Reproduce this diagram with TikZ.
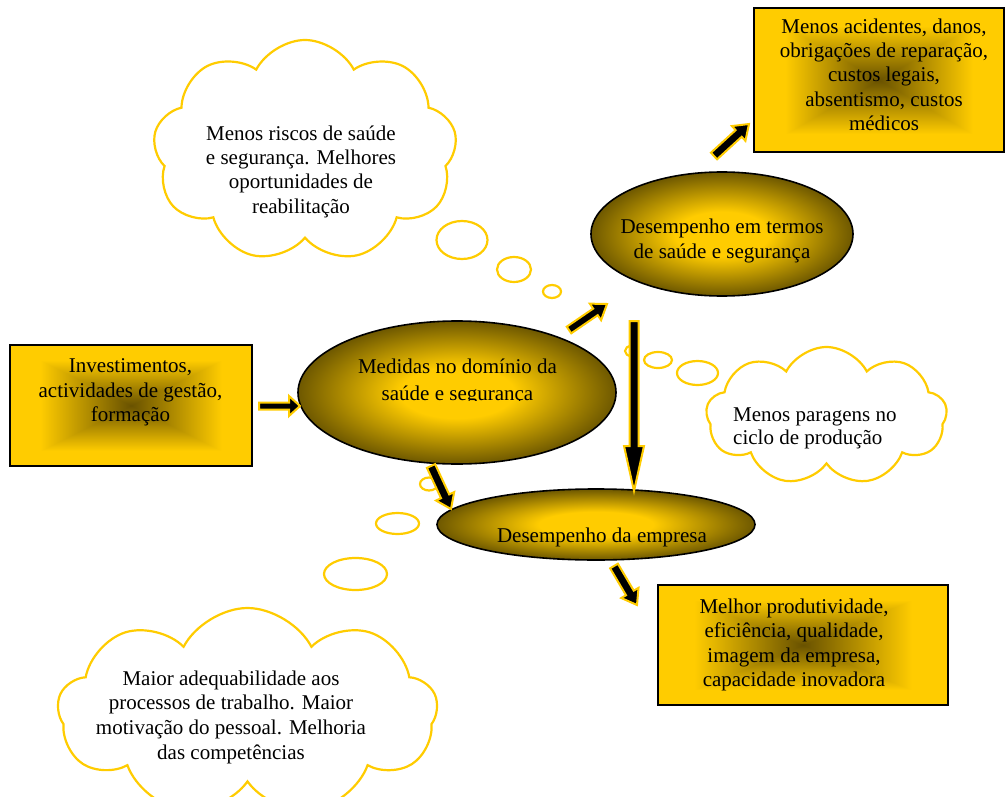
\documentclass[tikz,border=0pt]{standalone}
\usepackage{fontspec}
\setmainfont{Liberation Serif}
\usetikzlibrary{shapes.geometric,shapes.symbols,calc}
\definecolor{gold}{RGB}{255,204,0}
\definecolor{olive}{RGB}{110,88,0}
% oval fill: gold core fading to olive at the rim (25bp = path edge)
\pgfdeclareradialshading{ovalfill}{\pgfpoint{0bp}{0bp}}{color(0bp)=(gold); color(9bp)=(gold); color(25bp)=(olive); color(50bp)=(olive)}
% box fill: gold rim, dark brown centre, rectangular contours
\pgfdeclarefunctionalshading{boxfill}{\pgfpoint{-50bp}{-50bp}}{\pgfpoint{50bp}{50bp}}{}{abs exch abs 2 copy lt {exch} if pop 25 div 0.75 div dup 1 gt {pop 1} if dup 0.59 mul 0.41 add exch dup 0.48 mul 0.32 add exch pop 0}
\tikzset{
  txt/.style={font=\fontsize{21}{24.5}\selectfont, align=center, inner sep=0pt, anchor=north},
  infobox/.style={rectangle, draw=black, line width=2pt, shading=boxfill, inner sep=0pt},
  oval/.style={ellipse, draw=black, line width=1.6pt, shading=ovalfill, inner sep=0pt},
  thought/.style={cloud, draw=gold, fill=white, line width=2.2pt, cloud puffs=9, cloud puff arc=125, cloud ignores aspect, inner sep=0pt},
  bubble/.style={ellipse, draw=gold, fill=white, line width=2.2pt, inner sep=0pt},
  blockarrow/.style n args={3}{fill=black, draw=gold, line width=2pt, line join=miter,
    to path={
      ($(\tikztostart)!#1!90:(\tikztotarget)$)
      -- ($(\tikztotarget)!#3!(\tikztostart)!#1!-90:(\tikztostart)$)
      -- ($(\tikztotarget)!#3!(\tikztostart)!#2!-90:(\tikztostart)$)
      -- (\tikztotarget)
      -- ($(\tikztotarget)!#3!(\tikztostart)!#2!90:(\tikztostart)$)
      -- ($(\tikztotarget)!#3!(\tikztostart)!#1!90:(\tikztostart)$)
      -- ($(\tikztostart)!#1!-90:(\tikztotarget)$)
      -- cycle}}
}
\begin{document}
\begin{tikzpicture}[x=1pt,y=-1pt]
\clip (0,0) rectangle (1006,797);
\fill[white] (0,0) rectangle (1006,797);

% rectangular boxes
\node[infobox, minimum width=242pt, minimum height=121pt] (inv) at (131,405.5) {};
\node[infobox, minimum width=250pt, minimum height=144pt] (acc) at (879,80) {};
\node[infobox, minimum width=290pt, minimum height=120pt] (mel) at (803,645) {};

% ovals
\node[oval, minimum width=318pt, minimum height=143pt] (med) at (457,392.5) {};
\node[oval, minimum width=262pt, minimum height=124pt] (dss) at (722,234) {};
\node[oval, minimum width=318pt, minimum height=71pt] (emp) at (596,524.5) {};

% thought clouds
\node[thought, minimum width=304pt, minimum height=222pt] (c1) at (305,151) {};
\node[thought, minimum width=241pt, minimum height=138pt] (c2) at (826.5,416) {};
\node[thought, minimum width=380pt, minimum height=208pt] (c3) at (247.5,712) {};

% trailing bubbles
\node[bubble, minimum width=51pt, minimum height=38pt] (b11) at (462,240) {};
\node[bubble, minimum width=34pt, minimum height=25pt] (b12) at (514,269.5) {};
\node[bubble, minimum width=18pt, minimum height=13pt] (b13) at (552,291.5) {};
\node[bubble, minimum width=41pt, minimum height=24pt] (b21) at (697.5,373) {};
\node[bubble, minimum width=28pt, minimum height=16pt] (b22) at (658,360) {};
\node[bubble, minimum width=12pt, minimum height=10pt] (b23) at (631,351) {};
\node[bubble, minimum width=63pt, minimum height=32pt] (b31) at (355.5,574) {};
\node[bubble, minimum width=43pt, minimum height=21pt] (b32) at (397.5,523.5) {};
\node[bubble, minimum width=18pt, minimum height=13pt] (b33) at (429,484) {};

% arrow end points
\coordinate (a1s) at (259,406);  \coordinate (a1e) at (300,406);
\coordinate (a2s) at (569,330);  \coordinate (a2e) at (607,304);
\coordinate (a3s) at (634,321);  \coordinate (a3e) at (634,491);
\coordinate (a4s) at (431,466);  \coordinate (a4e) at (451,509);
\coordinate (a5s) at (614,566);  \coordinate (a5e) at (637,605);
\coordinate (a6s) at (714,156);  \coordinate (a6e) at (749,124);

\draw[blockarrow={3.5pt}{10pt}{11pt}] (a1s) to (a1e);
\draw[blockarrow={4pt}{10pt}{14pt}] (a2s) to (a2e);
\draw[blockarrow={4.5pt}{10pt}{45pt}] (a3s) to (a3e);
\draw[blockarrow={4.5pt}{10pt}{14pt}] (a4s) to (a4e);
\draw[blockarrow={4.5pt}{10pt}{14pt}] (a5s) to (a5e);
\draw[blockarrow={4.5pt}{10pt}{14pt}] (a6s) to (a6e);

% texts
\node[txt] (inv-t) at (130.5,358.5) {Investimentos,\\actividades de gestão,\\formação};
\begin{scope}
  \clip (300,330) rectangle (615,400.5);
  \node[txt, font=\fontsize{21}{27}\selectfont] (med-t) at (457.5,359) {Medidas no domínio da\\saúde e segurança};
\end{scope}
\node[txt, font=\fontsize{21}{25.5}\selectfont] (dss-t) at (722,218.5) {Desempenho em termos\\de saúde e segurança};
\node[txt, font=\fontsize{21}{24.3}\selectfont] (acc-t) at (884,18.5) {Menos acidentes, danos,\\obrigações de reparação,\\custos legais,\\absentismo, custos\\médicos};
\node[txt] (emp-t) at (602,527.5) {Desempenho da empresa};
\node[txt] (mel-t) at (794,598.5) {Melhor produtividade,\\eficiência, qualidade,\\imagem da empresa,\\capacidade inovadora};
\node[txt, font=\fontsize{21}{24.3}\selectfont] (c1-t) at (301,125.5) {Menos riscos de saúde\\e segurança. Melhores\\oportunidades de\\reabilitação};
\node[txt, font=\fontsize{21}{23}\selectfont, anchor=north west, align=left] (c2-t) at (733,407.5) {Menos paragens no\\ciclo de produção};
\node[txt, font=\fontsize{21}{24.7}\selectfont] (c3-t) at (231,670.5) {Maior adequabilidade aos\\processos de trabalho. Maior\\motivação do pessoal. Melhoria\\das competências};
\end{tikzpicture}
\end{document}
